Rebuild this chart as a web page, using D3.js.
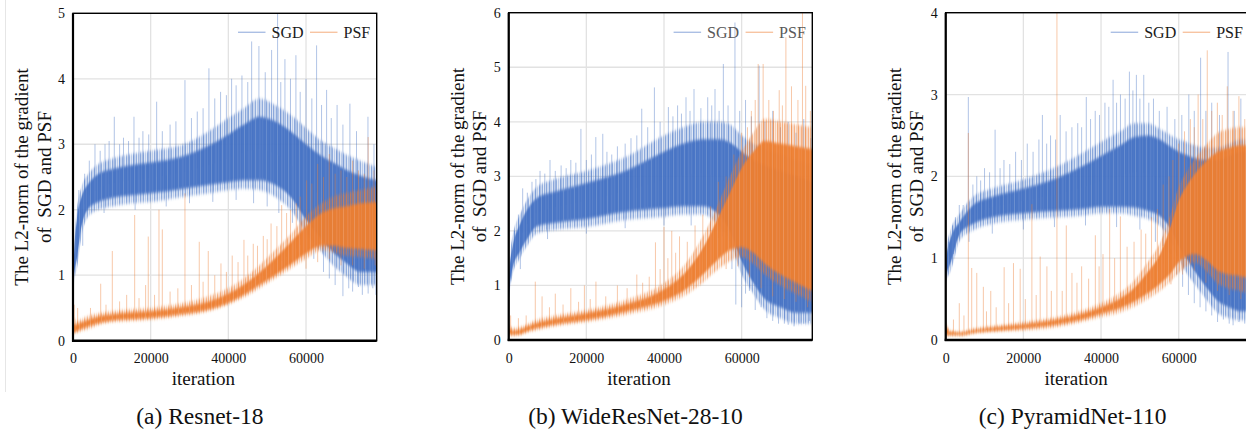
<!DOCTYPE html>
<html><head><meta charset="utf-8">
<script src="https://cdn.jsdelivr.net/npm/d3@7"></script>
<style>
html,body{margin:0;padding:0;background:#fff;}
svg{display:block;font-family:"Liberation Serif","Times New Roman",serif;}
</style></head><body>
<svg id="chart" width="1246" height="433" font-family="Liberation Serif, Times New Roman, serif"></svg>
<script>
// ---------------- shared ----------------
const xMax = 78200;
const xTicks = [0, 20000, 40000, 60000];
const seriesNames = ["SGD", "PSF"];
const captions = ["(a) Resnet-18", "(b) WideResNet-28-10", "(c) PyramidNet-110"];
const yTitle1 = "The L2-norm of the gradient";
const yTitle2 = "of  SGD and PSF";
const xTitle = "iteration";
const yTicksA = [0, 1, 2, 3, 4, 5];
const yTicksB = [0, 1, 2, 3, 4, 5, 6];
const yTicksC = [0, 1, 2, 3, 4];

// ---------------- (a) Resnet-18 ----------------
const itersA = [0, 300, 1000, 2200, 4000, 6600, 10000, 15000, 20000, 28500, 35000, 40000, 44000, 48000, 52000, 56000, 60000, 64000, 67000, 70000, 74000, 78200];
const sgdA_outerHi = [0.9, 1.5, 2.0, 2.35, 2.55, 2.7, 2.78, 2.85, 2.9, 3.0, 3.2, 3.4, 3.55, 3.7, 3.6, 3.45, 3.25, 3.05, 2.95, 2.85, 2.75, 2.65];
const sgdA_outerLo = [0.7, 0.9, 1.1, 1.6, 1.9, 2.0, 2.05, 2.1, 2.12, 2.2, 2.25, 2.3, 2.32, 2.3, 2.2, 2.0, 1.65, 1.35, 1.15, 1.0, 0.85, 0.85];
const sgdA_coreHi = [0.85, 1.35, 1.85, 2.2, 2.4, 2.55, 2.62, 2.68, 2.72, 2.82, 2.98, 3.15, 3.3, 3.42, 3.35, 3.2, 3.0, 2.82, 2.72, 2.62, 2.52, 2.45];
const sgdA_coreLo = [0.75, 1.0, 1.25, 1.75, 2.02, 2.12, 2.18, 2.22, 2.25, 2.32, 2.38, 2.42, 2.45, 2.45, 2.38, 2.2, 1.85, 1.55, 1.35, 1.2, 1.05, 1.05];
const sgdA_spikes = [[1500,2.3],[3000,2.55],[4200,2.75],[5660,3.0],[7000,2.9],[8240,3.0],[9300,3.05],[10630,3.42],[12000,3.0],[13000,3.1],[14300,3.05],[15700,3.42],[17000,3.1],[18000,3.2],[19500,3.15],[21540,3.65],[23000,3.2],[25000,3.3],[26500,3.35],[28830,3.98],[30500,3.4],[32000,3.5],[33500,3.55],[35000,4.16],[36500,3.7],[38000,3.8],[39500,3.75],[40840,4.0],[42000,3.9],[43500,4.05],[45000,3.95],[46000,4.57],[47870,4.5],[49500,4.1],[51140,4.44],[52680,5.0],[53500,3.95],[54570,4.3],[56000,4.0],[57400,4.36],[58500,3.8],[60000,4.0],[61500,3.7],[62720,4.51],[64000,3.6],[65300,3.83],[66500,3.4],[68000,3.6],[69500,3.3],[71300,3.62],[73000,3.2],[75950,3.42],[77500,3.0],
  [2500,1.45],[8000,1.95],[16000,2.0],[24000,2.05],[30000,2.1],[36000,2.12],[42000,2.15],[46500,2.1],[50000,2.05],[53000,1.95],[56500,1.8],[58500,1.55],[62000,1.25],[64500,1.05],[66000,0.95],[67500,0.85],[69500,0.68],[71000,0.8],[72000,0.75],[73500,0.82],[74500,0.7],[76000,0.72],[77200,0.8],[78000,0.7]];
const psfA_outerHi = [0.3, 0.35, 0.3, 0.33, 0.38, 0.42, 0.45, 0.48, 0.5, 0.58, 0.68, 0.8, 0.95, 1.15, 1.38, 1.62, 1.9, 2.1, 2.2, 2.25, 2.3, 2.35];
const psfA_outerLo = [0.08, 0.1, 0.12, 0.15, 0.18, 0.24, 0.28, 0.3, 0.32, 0.38, 0.45, 0.55, 0.66, 0.8, 0.95, 1.1, 1.25, 1.38, 1.35, 1.3, 1.28, 1.25];
const psfA_coreHi = [0.22, 0.25, 0.25, 0.28, 0.32, 0.37, 0.4, 0.43, 0.45, 0.52, 0.6, 0.72, 0.86, 1.04, 1.26, 1.5, 1.75, 1.95, 2.02, 2.05, 2.1, 2.12];
const psfA_coreLo = [0.1, 0.12, 0.15, 0.18, 0.22, 0.27, 0.31, 0.33, 0.35, 0.41, 0.48, 0.58, 0.7, 0.85, 1.0, 1.16, 1.33, 1.45, 1.45, 1.42, 1.4, 1.38];
const psfA_spikes = [[300,0.55],[1200,0.5],[4500,0.5],[7130,0.87],[8500,0.55],[10120,1.37],[12000,0.6],[13820,0.7],[15880,1.92],[17000,0.65],[18700,0.85],[19380,1.59],[21000,0.7],[22140,2.0],[23000,1.7],[25000,0.75],[27000,0.8],[28830,2.25],[30500,0.85],[32510,1.51],[33500,0.9],[34830,1.37],[36500,1.0],[38100,1.18],[39500,1.05],[41000,1.3],[42500,1.2],[44020,1.54],[45000,1.3],[46420,1.48],[47500,1.45],[49000,1.6],[50000,1.55],[51000,1.79],[52500,1.75],[53730,2.07],[55000,1.95],[56000,2.0],[57500,2.1],[58500,2.2],[60150,2.45],[61500,2.4],[63000,2.7],[64500,2.5],[66000,2.85],[67500,2.55],[69000,2.6],[70500,2.5],[72000,2.75],[73500,2.6],[75000,2.55],[76000,3.11],[77500,2.6],
  [60000,1.1],[63000,1.2],[66000,1.25],[69000,1.15],[72000,1.15],[75000,1.1],[77800,1.15]];

// ---------------- (b) WideResNet-28-10 ----------------
const itersB = [0, 300, 1000, 2900, 5000, 7200, 12000, 20000, 30000, 40000, 45000, 50000, 54000, 57000, 60000, 63000, 66000, 70000, 74000, 78200];
const sgdB_outerHi = [0.9, 1.5, 1.9, 2.3, 2.6, 2.8, 2.95, 3.1, 3.35, 3.75, 3.9, 4.0, 4.0, 3.95, 3.75, 3.6, 3.5, 3.4, 3.3, 3.2];
const sgdB_outerLo = [0.7, 0.9, 1.2, 1.5, 1.75, 1.95, 2.02, 2.07, 2.2, 2.26, 2.3, 2.3, 2.1, 1.8, 1.2, 0.85, 0.55, 0.4, 0.3, 0.3];
const sgdB_coreHi = [0.85, 1.35, 1.7, 2.12, 2.42, 2.6, 2.72, 2.88, 3.1, 3.45, 3.6, 3.68, 3.68, 3.62, 3.45, 3.3, 3.2, 3.1, 3.0, 2.9];
const sgdB_coreLo = [0.75, 1.0, 1.32, 1.62, 1.88, 2.08, 2.15, 2.22, 2.35, 2.42, 2.45, 2.45, 2.3, 2.0, 1.45, 1.05, 0.75, 0.6, 0.5, 0.5];
const sgdB_spikes = [[1500,2.0],[2500,2.3],[3600,2.78],[4800,2.7],[6000,2.9],[7000,2.95],[8070,3.1],[9300,3.05],[10640,3.3],[12000,3.1],[13500,3.2],[14800,3.15],[16000,3.3],[17300,3.25],[18600,3.87],[20000,3.3],[21300,3.4],[22440,3.72],[24230,3.78],[25300,3.45],[26540,3.4],[28000,3.55],[30000,3.6],[31500,3.7],[33000,3.75],[34270,4.24],[35800,3.9],[37530,4.63],[39000,4.0],[41130,4.27],[42300,4.1],[43500,4.3],[44500,4.15],[45670,4.45],[46700,4.2],[47730,4.6],[49500,4.25],[51260,4.45],[52300,4.3],[53140,4.6],[54200,4.2],[55290,5.06],[56500,4.3],[58280,5.82],[59500,4.2],[61000,4.4],[62500,4.1],[64500,5.03],[66000,4.0],[68000,4.2],[70000,3.9],[72000,4.0],[74000,3.8],[76000,4.05],[77800,3.7],
  [3000,1.3],[10000,1.85],[20000,1.95],[30000,2.05],[40000,2.1],[47000,2.1],[52000,2.0],[55000,1.9],[57500,1.3],[58500,0.65],[60000,0.6],[61000,0.85],[62000,0.9],[63500,0.55],[65000,0.6],[66500,0.4],[68000,0.35],[69500,0.3],[71000,0.3],[72000,0.28],[73500,0.25],[75000,0.3],[76000,0.3],[77500,0.35]];
const psfB_outerHi = [0.3, 0.28, 0.22, 0.24, 0.3, 0.37, 0.45, 0.55, 0.73, 1.04, 1.35, 1.9, 2.5, 3.0, 3.45, 3.8, 4.05, 4.0, 3.95, 3.9];
const psfB_outerLo = [0.08, 0.08, 0.08, 0.09, 0.14, 0.18, 0.25, 0.33, 0.46, 0.64, 0.8, 1.05, 1.3, 1.45, 1.52, 1.4, 1.2, 1.0, 0.85, 0.7];
const psfB_coreHi = [0.2, 0.2, 0.17, 0.19, 0.25, 0.31, 0.39, 0.49, 0.65, 0.93, 1.2, 1.68, 2.25, 2.7, 3.15, 3.45, 3.65, 3.6, 3.55, 3.5];
const psfB_coreLo = [0.1, 0.1, 0.1, 0.11, 0.17, 0.22, 0.29, 0.37, 0.52, 0.72, 0.9, 1.2, 1.48, 1.65, 1.7, 1.6, 1.4, 1.2, 1.05, 0.9];
const psfB_spikes = [[500,0.45],[2500,0.4],[4500,0.45],[6850,1.07],[8600,0.8],[10500,0.6],[12000,0.85],[14000,0.65],[16000,0.95],[18000,0.7],[19500,1.0],[21000,0.75],[22470,1.07],[25000,0.8],[28000,1.0],[30500,0.95],[33000,1.2],[34500,1.05],[36200,1.16],[37800,1.79],[39000,1.3],[40000,2.07],[41000,1.5],[42000,2.0],[43000,1.6],[44000,1.9],[46000,1.8],[48000,2.1],[50000,2.3],[52000,2.45],[54000,2.9],[56000,3.0],[58000,3.4],[60000,3.8],[61500,3.9],[62500,4.2],[63500,4.4],[64260,5.06],[65540,5.06],[67000,4.4],[68200,4.2],[69680,4.58],[70500,4.3],[71400,5.55],[72840,4.65],[74500,4.4],[75670,6.0],[76500,4.66],[77700,4.2],
  [56000,1.3],[59000,1.35],[62000,1.15],[65000,0.95],[68000,0.8],[71000,0.75],[74000,0.7],[77000,0.6]];

// ---------------- (c) PyramidNet-110 ----------------
const itersC = [0, 300, 1100, 3700, 7100, 12000, 20000, 28700, 35000, 40000, 45000, 48600, 52000, 55500, 58000, 60000, 62000, 64000, 67000, 70000, 73000, 76000, 78200];
const sgdC_outerHi = [0.9, 1.15, 1.32, 1.55, 1.75, 1.85, 1.96, 2.12, 2.28, 2.42, 2.55, 2.65, 2.65, 2.57, 2.5, 2.45, 2.42, 2.38, 2.35, 2.35, 2.4, 2.45, 2.45];
const sgdC_outerLo = [0.6, 0.75, 0.82, 1.22, 1.34, 1.42, 1.47, 1.5, 1.52, 1.55, 1.55, 1.52, 1.48, 1.38, 1.2, 0.98, 0.82, 0.69, 0.5, 0.33, 0.27, 0.24, 0.24];
const sgdC_coreHi = [0.85, 1.05, 1.22, 1.45, 1.65, 1.75, 1.85, 1.98, 2.12, 2.25, 2.38, 2.48, 2.5, 2.44, 2.36, 2.3, 2.26, 2.22, 2.2, 2.2, 2.25, 2.3, 2.3];
const sgdC_coreLo = [0.65, 0.82, 0.92, 1.3, 1.42, 1.5, 1.55, 1.58, 1.6, 1.63, 1.63, 1.62, 1.58, 1.5, 1.35, 1.15, 1.0, 0.85, 0.65, 0.48, 0.4, 0.35, 0.35];
const sgdC_spikes = [[800,1.2],[1800,1.4],[2500,1.5],[3500,1.65],[4500,1.65],[5830,2.97],[7000,1.9],[8000,2.0],[9000,1.95],[10000,2.1],[11300,2.05],[12720,2.57],[14000,2.1],[15000,2.2],[16500,2.15],[18000,2.3],[19500,2.2],[21000,2.4],[22500,2.3],[24000,2.45],[24900,2.75],[26000,2.4],[27000,2.5],[28300,2.45],[29480,2.75],[31000,2.55],[32500,2.6],[34000,2.65],[35000,2.6],[36200,2.97],[37300,2.7],[38500,2.8],[39600,2.75],[41000,2.9],[42000,2.85],[43100,3.18],[44000,2.9],[45000,3.0],[46200,2.95],[47300,3.28],[48200,3.05],[49100,3.24],[50000,2.95],[51000,3.24],[52300,2.9],[53500,2.95],[55000,2.8],[57000,2.85],[59000,2.7],[60800,2.75],[62600,3.0],[64000,2.8],[65640,3.45],[67000,2.8],[68500,2.9],[70500,2.75],[72700,3.52],[74300,2.8],[76000,2.95],[77500,2.7],
  [2000,1.05],[6000,1.2],[12000,1.3],[20000,1.35],[28000,1.38],[36000,1.4],[44000,1.38],[50000,1.35],[54000,1.2],[56000,1.15],[58000,1.05],[59500,0.8],[61000,0.65],[62500,0.55],[64000,0.45],[65500,0.4],[67000,0.35],[68500,0.3],[70000,0.22],[71500,0.25],[73000,0.2],[74000,0.18],[75500,0.22],[77000,0.2]];
const psfC_outerHi = [0.25, 0.2, 0.12, 0.1, 0.14, 0.17, 0.22, 0.28, 0.36, 0.45, 0.58, 0.73, 0.95, 1.22, 1.55, 1.87, 2.05, 2.2, 2.38, 2.53, 2.58, 2.6, 2.6];
const psfC_outerLo = [0.05, 0.05, 0.05, 0.05, 0.08, 0.1, 0.12, 0.16, 0.22, 0.28, 0.34, 0.41, 0.5, 0.61, 0.72, 0.82, 0.9, 0.95, 0.85, 0.69, 0.63, 0.6, 0.55];
const psfC_coreHi = [0.18, 0.15, 0.1, 0.09, 0.12, 0.15, 0.19, 0.25, 0.32, 0.4, 0.51, 0.64, 0.83, 1.08, 1.4, 1.7, 1.88, 2.02, 2.18, 2.3, 2.35, 2.38, 2.38];
const psfC_coreLo = [0.06, 0.06, 0.06, 0.06, 0.09, 0.11, 0.14, 0.19, 0.25, 0.32, 0.39, 0.47, 0.57, 0.7, 0.82, 0.95, 1.02, 1.05, 0.98, 0.85, 0.8, 0.78, 0.75];
const psfC_spikes = [[0,0.75],[2000,0.25],[3500,0.45],[4700,0.3],[5830,2.53],[6700,0.88],[8000,0.82],[9700,0.65],[10500,0.35],[11600,0.6],[13000,0.4],[15050,0.89],[16200,0.45],[17450,0.94],[19180,0.87],[20500,0.5],[22190,1.66],[23300,0.55],[24330,1.02],[26060,0.9],[27200,0.6],[28640,4.2],[30000,0.6],[31050,1.4],[32510,0.82],[33800,0.7],[35000,0.9],[36800,0.75],[38530,1.28],[39500,0.9],[40500,1.05],[42220,1.6],[43500,1.0],[44980,1.51],[46710,1.14],[48500,1.2],[50320,1.35],[51500,1.3],[53000,1.5],[54500,1.6],[56000,1.9],[57500,2.0],[58500,2.2],[60000,2.4],[61500,2.55],[63000,2.7],[64000,2.6],[65000,3.0],[66200,2.7],[67350,3.54],[68500,2.8],[69950,2.9],[71200,2.75],[72500,3.1],[74000,2.8],[75500,2.98],[77000,2.7],
  [58000,0.68],[61000,0.8],[64000,0.85],[67000,0.7],[70000,0.6],[73000,0.55],[76000,0.5],[78000,0.5]];

// ---------------- styling / layout ----------------
const BLUE = "#4472C4", ORANGE = "#ED7D31";
const boxes = [
  {left: 73, right: 376.7, top: 13.3, bottom: 340.7},
  {left: 508.7, right: 812.3, top: 12.7, bottom: 340},
  {left: 945.7, right: 1249.4, top: 12.7, bottom: 340}
];
const legendColors = ["#1a1a1a", "#595959", "#1a1a1a"];

const panels = [
  {key: "a", yTicks: yTicksA, iters: itersA,
   series: [
     {name: "sgd", color: BLUE, oLo: sgdA_outerLo, oHi: sgdA_outerHi, cLo: sgdA_coreLo, cHi: sgdA_coreHi, spikes: sgdA_spikes},
     {name: "psf", color: ORANGE, oLo: psfA_outerLo, oHi: psfA_outerHi, cLo: psfA_coreLo, cHi: psfA_coreHi, spikes: psfA_spikes}]},
  {key: "b", yTicks: yTicksB, iters: itersB,
   series: [
     {name: "sgd", color: BLUE, oLo: sgdB_outerLo, oHi: sgdB_outerHi, cLo: sgdB_coreLo, cHi: sgdB_coreHi, spikes: sgdB_spikes},
     {name: "psf", color: ORANGE, oLo: psfB_outerLo, oHi: psfB_outerHi, cLo: psfB_coreLo, cHi: psfB_coreHi, spikes: psfB_spikes}]},
  {key: "c", yTicks: yTicksC, iters: itersC,
   series: [
     {name: "sgd", color: BLUE, oLo: sgdC_outerLo, oHi: sgdC_outerHi, cLo: sgdC_coreLo, cHi: sgdC_coreHi, spikes: sgdC_spikes},
     {name: "psf", color: ORANGE, oLo: psfC_outerLo, oHi: psfC_outerHi, cLo: psfC_coreLo, cHi: psfC_coreHi, spikes: psfC_spikes}]}
];

const svg = d3.select("#chart");
const defs = svg.append("defs");

// streak patterns (texture of a dense noisy line)
function streakPattern(id, color, period, stripes) {
  const pat = defs.append("pattern").attr("id", id)
    .attr("patternUnits", "userSpaceOnUse").attr("width", period).attr("height", 10);
  stripes.forEach(([sx, sw, op]) => pat.append("rect")
    .attr("x", sx).attr("y", 0).attr("width", sw).attr("height", 10)
    .attr("fill", color).attr("opacity", op));
}
streakPattern("outer-sgd", BLUE, 7, [[0, 1, 0.55], [1.5, 1, 0.3], [3, 1, 0.5], [5, 1, 0.25]]);
streakPattern("outer-psf", ORANGE, 7, [[0, 1, 0.55], [1.5, 1, 0.3], [3, 1, 0.5], [5, 1, 0.25]]);
streakPattern("core-sheen", "#ffffff", 11, [[2, 0.8, 0.2], [6.5, 0.7, 0.14], [9, 0.6, 0.1]]);
// soft vertical edges
const vb = defs.append("filter").attr("id", "vblur")
  .attr("x", "-2%").attr("y", "-10%").attr("width", "104%").attr("height", "120%");
vb.append("feGaussianBlur").attr("stdDeviation", "0 1.6");

// faint page-edge line at the far left
svg.append("line").attr("x1", 5.5).attr("x2", 5.5).attr("y1", 0).attr("y2", 392)
  .attr("stroke", "#e6e6e6").attr("stroke-width", 1);

panels.forEach((p, pi) => {
  const box = boxes[pi];
  const yMax = p.yTicks[p.yTicks.length - 1];
  const x = d3.scaleLinear().domain([0, xMax]).range([box.left, box.right]);
  const y = d3.scaleLinear().domain([0, yMax]).range([box.bottom, box.top]);
  const g = svg.append("g");

  defs.append("clipPath").attr("id", "clip" + p.key).append("rect")
    .attr("x", box.left).attr("y", box.top)
    .attr("width", box.right - box.left).attr("height", box.bottom - box.top);

  // grid
  g.append("g").selectAll("line").data(p.yTicks.slice(1)).join("line")
    .attr("x1", box.left).attr("x2", box.right)
    .attr("y1", d => y(d)).attr("y2", d => y(d))
    .attr("stroke", "#e2e2e2").attr("stroke-width", 1.3);
  g.append("g").selectAll("line").data(xTicks.slice(1)).join("line")
    .attr("x1", d => x(d)).attr("x2", d => x(d))
    .attr("y1", box.top).attr("y2", box.bottom)
    .attr("stroke", "#e2e2e2").attr("stroke-width", 1.3);

  const plot = g.append("g").attr("clip-path", `url(#clip${p.key})`);
  p.series.forEach(s => {
    const it = p.iters;
    const band = (lo, hi) => d3.area()
      .x((d, i) => x(it[i])).y0((d, i) => y(lo[i])).y1((d, i) => y(hi[i]))
      .curve(d3.curveMonotoneX)(it);
    const midFn = d3.scaleLinear().domain(it).range(it.map((d, i) => (s.cLo[i] + s.cHi[i]) / 2));
    const sg = plot.append("g");
    const soft = sg.append("g").attr("filter", "url(#vblur)");
    soft.append("path").attr("d", band(s.oLo, s.oHi))
      .attr("fill", s.color).attr("opacity", 0.16);
    soft.append("path").attr("d", band(s.oLo, s.oHi))
      .attr("fill", `url(#outer-${s.name})`);
    sg.append("g").selectAll("line").data(s.spikes).join("line")
      .attr("x1", d => x(d[0])).attr("x2", d => x(d[0]))
      .attr("y1", d => y(midFn(d[0]))).attr("y2", d => y(d[1]))
      .attr("stroke", s.color).attr("stroke-width", 1).attr("stroke-opacity", 0.42);
    const core = sg.append("g").attr("filter", "url(#vblur)");
    core.append("path").attr("d", band(s.cLo, s.cHi))
      .attr("fill", s.color).attr("opacity", 0.94);
    core.append("path").attr("d", band(s.cLo, s.cHi))
      .attr("fill", "url(#core-sheen)");
  });

  // frame
  g.append("rect").attr("x", box.left).attr("y", box.top)
    .attr("width", box.right - box.left).attr("height", box.bottom - box.top)
    .attr("fill", "none").attr("stroke", "#000").attr("stroke-width", 1.4);
  g.append("line").attr("x1", box.left).attr("x2", box.left).attr("y1", box.top).attr("y2", box.bottom + 1)
    .attr("stroke", "#000").attr("stroke-width", 2.2);
  g.append("line").attr("x1", box.left - 1).attr("x2", box.right).attr("y1", box.bottom).attr("y2", box.bottom)
    .attr("stroke", "#000").attr("stroke-width", 2.4);

  // axes (labels only)
  const ya = g.append("g").attr("transform", `translate(${box.left},0)`)
    .call(d3.axisLeft(y).tickValues(p.yTicks).tickSize(0).tickPadding(8).tickFormat(d3.format("d")));
  ya.attr("font-family", null);
  ya.select(".domain").remove();
  ya.selectAll("text").attr("font-size", 14).attr("fill", "#111");
  const xa = g.append("g").attr("transform", `translate(0,${box.bottom})`)
    .call(d3.axisBottom(x).tickValues(xTicks).tickSize(0).tickPadding(12.6).tickFormat(d3.format("d")));
  xa.attr("font-family", null);
  xa.select(".domain").remove();
  xa.selectAll("text").attr("font-size", 14).attr("fill", "#111");

  const cx = (box.left + box.right) / 2;
  const cy = (box.top + box.bottom) / 2;
  // y title
  g.append("text").attr("transform", `translate(${box.left - 45},${cy}) rotate(-90)`)
    .attr("text-anchor", "middle").attr("font-size", 19).attr("fill", "#111").text(yTitle1);
  g.append("text").attr("transform", `translate(${box.left - 22.5},${cy}) rotate(-90)`)
    .attr("text-anchor", "middle").attr("font-size", 19).attr("fill", "#111")
    .style("white-space", "pre").text(yTitle2);
  // x title
  g.append("text").attr("x", cx - 21.5).attr("y", 385).attr("text-anchor", "middle")
    .attr("font-size", 19).attr("fill", "#111").text(xTitle);
  // caption
  g.append("text").attr("x", cx - 25).attr("y", 424).attr("text-anchor", "middle")
    .attr("font-size", 23.5).attr("fill", "#111").text(captions[pi]);

  // legend
  const legY = 32.3;
  const legItems = [
    {name: seriesNames[0], color: BLUE, x0: box.right - 138.7},
    {name: seriesNames[1], color: ORANGE, x0: box.right - 66.7}
  ];
  const lg = g.append("g");
  legItems.forEach(li => {
    lg.append("line").attr("x1", li.x0).attr("x2", li.x0 + 27.5).attr("y1", legY).attr("y2", legY)
      .attr("stroke", li.color).attr("stroke-width", 1.4).attr("stroke-opacity", 0.45);
    lg.append("text").attr("x", li.x0 + 33.5).attr("y", legY + 5.6)
      .attr("font-size", 16).attr("fill", legendColors[pi]).text(li.name);
  });
});
</script>
</body></html>
